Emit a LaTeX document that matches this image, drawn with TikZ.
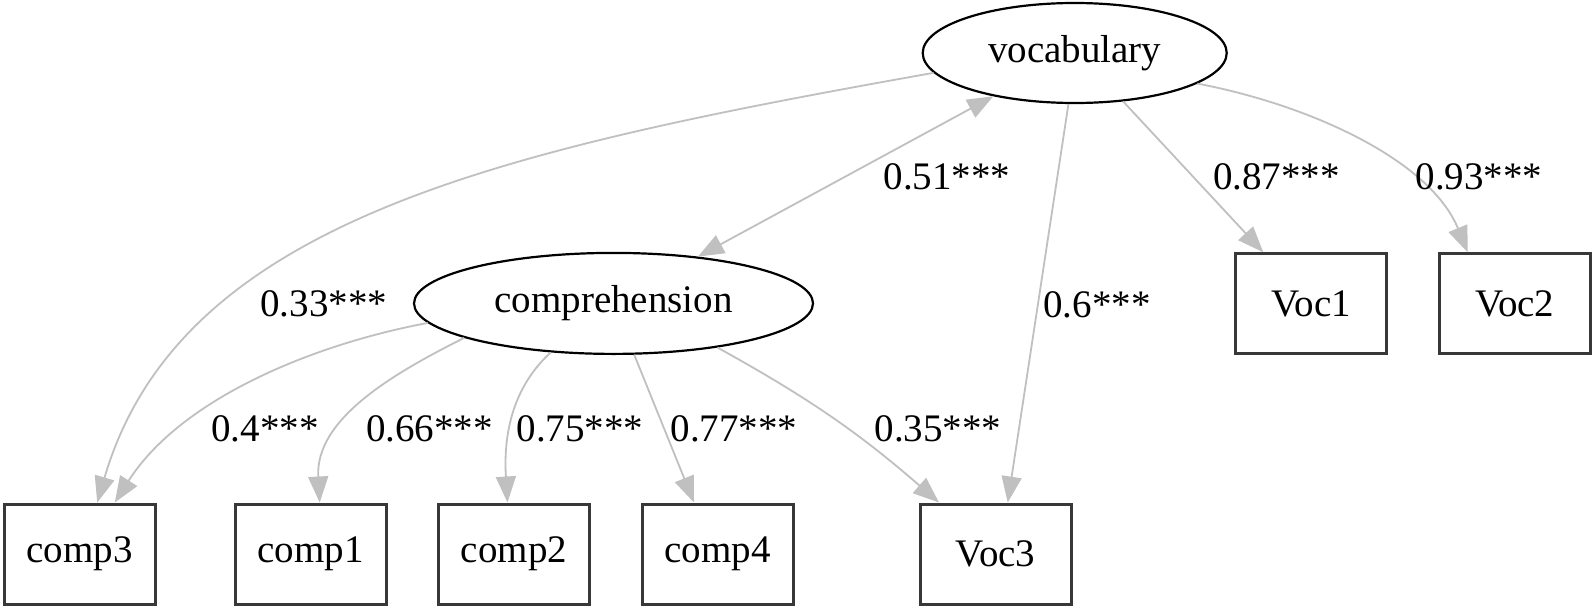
\documentclass[tikz,border=0pt]{standalone}
\usepackage{fontspec}
\setmainfont{Liberation Serif}
\usetikzlibrary{arrows.meta,shapes.geometric}
\definecolor{edgegray}{HTML}{C0C0C0}
\definecolor{boxline}{HTML}{383838}
\begin{document}
\begin{tikzpicture}[x=1pt,y=-1pt,
  every node/.style={font=\fontsize{39}{46}\selectfont},
  latent/.style={ellipse, draw=black, line width=2.2pt, inner sep=0pt},
  observed/.style={rectangle, draw=boxline, line width=3pt, minimum width=151pt, minimum height=100pt, inner sep=0pt},
  link/.style={draw=edgegray, line width=1.8pt, -{Triangle[length=26pt,width=20pt]}},
  duallink/.style={draw=edgegray, line width=1.8pt, {Triangle[length=26pt,width=20pt]}-{Triangle[length=26pt,width=20pt]}},
  coef/.style={inner sep=0pt}
]
\fill[white] (0,0) rectangle (1594,608);
\useasboundingbox (0,0) rectangle (1594,608);

% latent variables
\node[latent, minimum width=304pt, minimum height=100pt] (vocab) at (1074.7,53) {vocabulary};
\node[latent, minimum width=399pt, minimum height=101pt] (comp) at (613.5,303.4) {comprehension};

% observed variables
\node[observed] (comp3) at (79.75,554) {comp3};
\node[observed] (comp1) at (310.7,554) {comp1};
\node[observed] (comp2) at (514,554) {comp2};
\node[observed] (comp4) at (717.5,554) {comp4};
\node[observed] (voc3) at (995.7,554) {Voc3};
\node[observed] (voc1) at (1311.3,303.8) {Voc1};
\node[observed] (voc2) at (1514.7,303.8) {Voc2};

% connectors
\draw[link] (vocab.188) .. controls (500,150) and (180,220) .. ([xshift=17.5pt]comp3.north);
\draw[duallink] (comp.29) -- (vocab.208);
\draw[link] (vocab.263) -- ([xshift=12pt]voc3.north);
\draw[link] (vocab.315.6) -- ([xshift=-48pt]voc1.north);
\draw[link] (vocab.346.8) .. controls (1310,105) and (1430,160) .. ([xshift=-47pt]voc2.north);
\draw[link] (comp.186) .. controls (310,345) and (180,400) .. ([xshift=35pt]comp3.north);
\draw[link] (comp.193.5) .. controls (390,375) and (315,420) .. ([xshift=9pt]comp1.north);
\draw[link] (comp.218) .. controls (515,385) and (503,430) .. ([xshift=-6.5pt]comp2.north);
\draw[link] (comp.292.8) -- ([xshift=-23.5pt]comp4.north);
\draw[link] (comp.337.5) to[bend left=6] ([xshift=-56.7pt]voc3.north);

% coefficients
\node[coef] (l33) at (323.7,304) {0.33***};
\node[coef] (l51) at (947,176.5) {0.51***};
\node[coef] (l60) at (1097,304.5) {0.6***};
\node[coef] (l87) at (1276.6,176.5) {0.87***};
\node[coef] (l93) at (1479,176.5) {0.93***};
\node[coef] (l40) at (265,428.5) {0.4***};
\node[coef] (l66) at (429.5,428.5) {0.66***};
\node[coef] (l75) at (580,428.5) {0.75***};
\node[coef] (l77) at (734,428.5) {0.77***};
\node[coef] (l35) at (938,428.5) {0.35***};
\end{tikzpicture}
\end{document}
